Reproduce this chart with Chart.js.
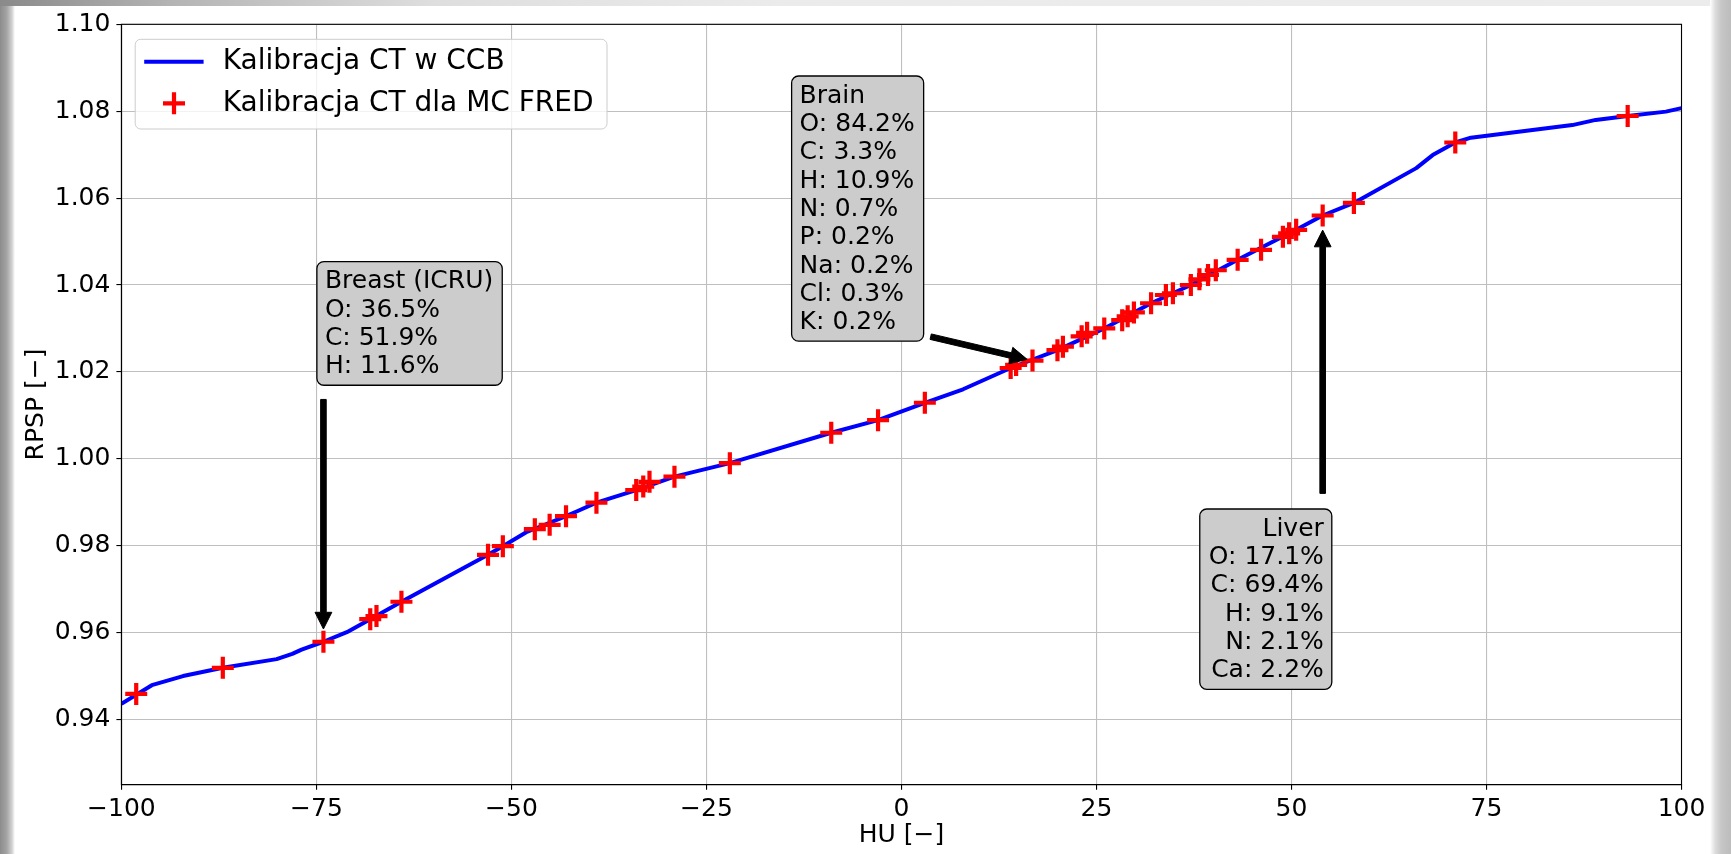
<!DOCTYPE html>
<html>
<head>
<meta charset="utf-8">
<title>Kalibracja CT</title>
<script src="https://cdn.jsdelivr.net/npm/chart.js@4.4.0/dist/chart.umd.min.js"></script>
<style>
  html, body { margin: 0; padding: 0; background: #ffffff; width: 1731px; height: 854px; overflow: hidden; position: relative; }
  .edge { position: absolute; pointer-events: none; }
  #edgeLeft { left: 0; top: 0; width: 15px; height: 854px;
    background: linear-gradient(to right, #8c8c8c 0%, #a4a4a4 45%, #d2d2d2 80%, #ffffff 100%); }
  #edgeTop { left: 0; top: 0; width: 1731px; height: 6px;
    background: linear-gradient(to right, #8a8a8a 0%, #b4b4b4 10%, #dedede 25%, #ebebeb 45%, #ececec 100%); }
  #edgeRight { left: 1710px; top: 0; width: 21px; height: 854px;
    background: linear-gradient(to right, #ffffff 0%, #dcdcdc 25%, #c6c6c6 55%, #bcbcbc 100%); }
  #plot { position: absolute; left: 0; top: 0; }
</style>
</head>
<body>
<div class="edge" id="edgeLeft"></div>
<div class="edge" id="edgeTop"></div>
<div class="edge" id="edgeRight"></div>
<canvas id="plot" width="1731" height="854" style="width:1731px;height:854px;"></canvas>
<script>
// Axis ticks
const huTicks = [-100, -75, -50, -25, 0, 25, 50, 75, 100];
const rpspTicks = [0.94, 0.96, 0.98, 1.00, 1.02, 1.04, 1.06, 1.08, 1.10];

// CT calibration curve used at CCB (HU -> RPSP)
const ccbHU = [-100.0, -96.1, -92.1, -87.0, -80.1, -78.1, -76.9, -74.1, -71.1, -68.1, -64.1,
  -53.0, -51.1, -48.1, -43.0, -41.5, -39.1, -34.0, -29.1, -22.0, -9.0, -3.0, 3.0, 7.9,
  14.0, 20.0, 26.0, 32.0, 37.1, 43.1, 50.6, 54.0, 58.0, 66.0, 68.1, 71.0, 73.0, 86.0,
  89.0, 93.1, 98.0, 100.0];
const ccbRPSP = [0.9436, 0.9479, 0.9500, 0.9519, 0.9539, 0.9551, 0.9561, 0.9579, 0.9601, 0.9631, 0.9671,
  0.9779, 0.9799, 0.9831, 0.9868, 0.9880, 0.9899, 0.9928, 0.9959, 0.9990, 1.0060, 1.0089, 1.0129, 1.0160,
  1.0209, 1.0250, 1.0300, 1.0358, 1.0400, 1.0458, 1.0527, 1.0560, 1.0589, 1.0669, 1.0699, 1.0728, 1.0739, 1.0768,
  1.0780, 1.0789, 1.0799, 1.0807];

// Tissue calibration points for the FRED Monte Carlo engine
const fredHU = [-98.1, -87.0, -74.1, -68.1, -67.3, -64.1, -53.0, -51.1, -47.0, -45.1, -43.0,
  -39.1, -34.0, -33.1, -32.3, -29.1, -22.0, -9.0, -3.0, 3.0, 14.0, 14.7, 16.8, 20.0, 20.7,
  23.1, 23.8, 26.0, 28.3, 29.0, 29.8, 32.0, 33.9, 34.8, 37.1, 38.2, 39.3, 40.3, 43.1, 46.1,
  48.9, 49.7, 50.6, 54.0, 58.0, 71.0, 93.1];
const fredRPSP = [0.9459, 0.9519, 0.9579, 0.9631, 0.9638, 0.9671, 0.9779, 0.9799, 0.9838, 0.9848, 0.9868,
  0.9899, 0.9928, 0.9936, 0.9947, 0.9959, 0.9990, 1.0060, 1.0089, 1.0129, 1.0209, 1.0216, 1.0226, 1.0250, 1.0258,
  1.0282, 1.0290, 1.0300, 1.0319, 1.0328, 1.0337, 1.0358, 1.0377, 1.0381, 1.0400, 1.0413, 1.0423, 1.0434, 1.0458, 1.0481,
  1.0511, 1.0519, 1.0527, 1.0560, 1.0589, 1.0728, 1.0789];

const seriesNames = ['Kalibracja CT w CCB', 'Kalibracja CT dla MC FRED'];

// Tissue composition notes
const breastLines = ['Breast (ICRU)', 'O: 36.5%', 'C: 51.9%', 'H: 11.6%'];
const brainLines = ['Brain', 'O: 84.2%', 'C: 3.3%', 'H: 10.9%', 'N: 0.7%', 'P: 0.2%', 'Na: 0.2%', 'Cl: 0.3%', 'K: 0.2%'];
const liverLines = ['Liver', 'O: 17.1%', 'C: 69.4%', 'H: 9.1%', 'N: 2.1%', 'Ca: 2.2%'];

// Note placement in data units: box corner, arrow start, arrow target
const notes = [
  { lines: breastLines, align: 'left',  boxHU: -74.94, boxRPSP: 1.0454, fromHU: -74.1, fromRPSP: 1.0166, toHU: -74.1, toRPSP: 0.9579 },
  { lines: brainLines,  align: 'left',  boxHU: -14.08, boxRPSP: 1.0881, fromHU: 3.06,  fromRPSP: 1.0284, toHU: 16.8,  toRPSP: 1.0226 },
  { lines: liverLines,  align: 'right', boxHU: 55.17,  boxRPSP: 0.98845, fromHU: 54.0, fromRPSP: 0.98868, toHU: 54.0, toRPSP: 1.0560 }
];

const FONT = 'DejaVu Sans';
const MINUS = '\u2212';

function fmtHU(v) {
  return v < 0 ? MINUS + Math.abs(v) : String(v);
}

function roundRect(ctx, x, y, w, h, r) {
  ctx.beginPath();
  ctx.moveTo(x + r, y);
  ctx.lineTo(x + w - r, y);
  ctx.arcTo(x + w, y, x + w, y + r, r);
  ctx.lineTo(x + w, y + h - r);
  ctx.arcTo(x + w, y + h, x + w - r, y + h, r);
  ctx.lineTo(x + r, y + h);
  ctx.arcTo(x, y + h, x, y + h - r, r);
  ctx.lineTo(x, y + r);
  ctx.arcTo(x, y, x + r, y, r);
  ctx.closePath();
}

function drawArrow(ctx, x0, y0, x1, y1) {
  const dx = x1 - x0, dy = y1 - y0;
  const L = Math.hypot(dx, dy);
  const ux = dx / L, uy = dy / L, nx = -uy, ny = ux;
  const sx = x0 + dx * 0.05, sy = y0 + dy * 0.05;
  const ex = x1 - dx * 0.05, ey = y1 - dy * 0.05;
  const sw = 2.8, hw = 8.4, hl = 16.7;
  const bx = ex - ux * hl, by = ey - uy * hl;
  ctx.beginPath();
  ctx.moveTo(sx + nx * sw, sy + ny * sw);
  ctx.lineTo(bx + nx * sw, by + ny * sw);
  ctx.lineTo(bx + nx * hw, by + ny * hw);
  ctx.lineTo(ex, ey);
  ctx.lineTo(bx - nx * hw, by - ny * hw);
  ctx.lineTo(bx - nx * sw, by - ny * sw);
  ctx.lineTo(sx - nx * sw, sy - ny * sw);
  ctx.closePath();
  ctx.fillStyle = '#000';
  ctx.fill();
  ctx.lineWidth = 1;
  ctx.strokeStyle = '#000';
  ctx.lineJoin = 'miter';
  ctx.stroke();
}

const frameAndNotes = {
  id: 'frameAndNotes',
  afterDatasetsDraw(chart) {
    const { ctx, chartArea: a } = chart;
    ctx.save();
    ctx.strokeStyle = '#000';
    ctx.lineWidth = 1.1;
    ctx.strokeRect(a.left, a.top, a.right - a.left, a.bottom - a.top);
    ctx.restore();
  },
  afterDraw(chart) {
    const { ctx, chartArea: a } = chart;
    const xs = chart.scales.x, ys = chart.scales.y;
    ctx.save();

    // arrows and composition boxes
    const lineH = 28.3;
    ctx.font = '25px "' + FONT + '"';
    notes.forEach(n => {
      drawArrow(ctx,
        xs.getPixelForValue(n.fromHU), ys.getPixelForValue(n.fromRPSP),
        xs.getPixelForValue(n.toHU), ys.getPixelForValue(n.toRPSP));
    });
    notes.forEach(n => {
      ctx.font = '25px "' + FONT + '"';
      const wText = Math.max(...n.lines.map(t => ctx.measureText(t).width));
      const w = wText + 17;
      const h = n.lines.length * lineH + 10.5;
      const ax = xs.getPixelForValue(n.boxHU);
      const top = ys.getPixelForValue(n.boxRPSP);
      const left = n.align === 'left' ? ax : ax - w;
      roundRect(ctx, left, top, w, h, 7);
      ctx.fillStyle = '#cccccc';
      ctx.fill();
      ctx.lineWidth = 1.3;
      ctx.strokeStyle = '#000';
      ctx.stroke();
      ctx.fillStyle = '#000';
      ctx.textBaseline = 'alphabetic';
      ctx.textAlign = n.align;
      const tx = n.align === 'left' ? left + 8 : left + w - 8;
      n.lines.forEach((t, i) => ctx.fillText(t, tx, top + 26.7 + i * lineH));
    });

    // legend
    const lx = a.left + 13.8, ly = a.top + 15;
    const lw = 471.8, lh = 89.7;
    roundRect(ctx, lx, ly, lw, lh, 5.5);
    ctx.fillStyle = 'rgba(255,255,255,0.8)';
    ctx.fill();
    ctx.lineWidth = 1;
    ctx.strokeStyle = '#cccccc';
    ctx.stroke();

    const ds = chart.data.datasets;
    const row1 = ly + 22.4, row2 = ly + 64;
    // line handle
    ctx.beginPath();
    ctx.moveTo(lx + 9, row1);
    ctx.lineTo(lx + 68.4, row1);
    ctx.strokeStyle = ds[0].borderColor;
    ctx.lineWidth = ds[0].borderWidth;
    ctx.lineCap = 'butt';
    ctx.stroke();
    // marker handle
    const cx = lx + 38.8, r = ds[1].pointRadius;
    ctx.beginPath();
    ctx.moveTo(cx - r, row2); ctx.lineTo(cx + r, row2);
    ctx.moveTo(cx, row2 - r); ctx.lineTo(cx, row2 + r);
    ctx.strokeStyle = ds[1].borderColor;
    ctx.lineWidth = ds[1].borderWidth;
    ctx.stroke();

    ctx.font = '28px "' + FONT + '"';
    ctx.fillStyle = '#000';
    ctx.textAlign = 'left';
    ctx.textBaseline = 'middle';
    ctx.fillText(ds[0].label, lx + 87.5, row1);
    ctx.fillText(ds[1].label, lx + 87.5, row2);
    ctx.restore();
  }
};

const tickFont = { family: FONT, size: 25 };
const gridCfg = { color: '#bfbfbf', lineWidth: 1.1, drawTicks: true, tickLength: 5, tickColor: '#000', tickWidth: 1.1 };

new Chart(document.getElementById('plot'), {
  type: 'scatter',
  data: {
    datasets: [
      {
        label: seriesNames[0],
        data: ccbHU.map((h, i) => ({ x: h, y: ccbRPSP[i] })),
        showLine: true,
        borderColor: '#0000ff',
        backgroundColor: '#0000ff',
        borderWidth: 4,
        borderJoinStyle: 'round',
        pointRadius: 0,
        pointHoverRadius: 0,
        tension: 0,
        order: 2
      },
      {
        label: seriesNames[1],
        data: fredHU.map((h, i) => ({ x: h, y: fredRPSP[i] })),
        showLine: false,
        pointStyle: 'cross',
        pointRadius: 11,
        pointHoverRadius: 11,
        borderColor: '#ff0000',
        backgroundColor: '#ff0000',
        borderWidth: 4.2,
        order: 1
      }
    ]
  },
  options: {
    responsive: false,
    devicePixelRatio: 1,
    animation: false,
    events: [],
    layout: { padding: { left: 0, top: 24.3, right: 49.5, bottom: 0 } },
    plugins: { legend: { display: false }, tooltip: { enabled: false } },
    scales: {
      x: {
        type: 'linear',
        min: -100,
        max: 100,
        afterBuildTicks: s => { s.ticks = huTicks.map(v => ({ value: v })); },
        afterFit: s => { s.height = 69.3; },
        ticks: { callback: v => fmtHU(v), font: tickFont, color: '#000', padding: 5, maxRotation: 0, autoSkip: false },
        grid: gridCfg,
        border: { display: true, color: '#000', width: 1.1 },
        title: { display: true, text: 'HU [' + MINUS + ']', font: tickFont, color: '#000', padding: { top: 0, bottom: 4 } }
      },
      y: {
        type: 'linear',
        min: 0.925,
        max: 1.10,
        afterBuildTicks: s => { s.ticks = rpspTicks.map(v => ({ value: v })); },
        afterFit: s => { s.width = 121.4; },
        ticks: { callback: v => Number(v).toFixed(2), font: tickFont, color: '#000', padding: 6, autoSkip: false },
        grid: gridCfg,
        border: { display: true, color: '#000', width: 1.1 },
        title: { display: true, text: 'RPSP [' + MINUS + ']', font: tickFont, color: '#000', padding: { top: 21, bottom: 0 } }
      }
    }
  },
  plugins: [frameAndNotes]
});
</script>
</body>
</html>
